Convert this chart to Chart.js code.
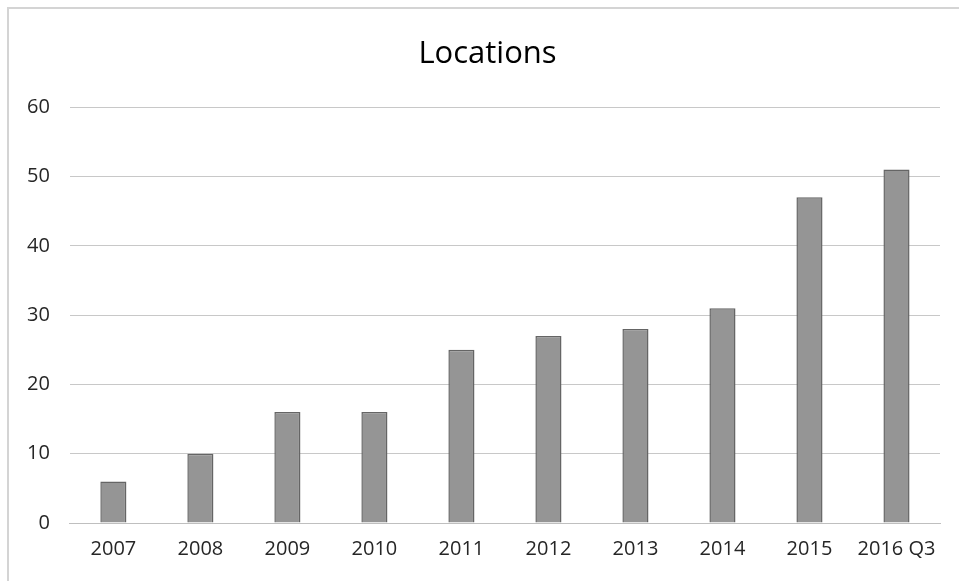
<!DOCTYPE html>
<html>
<head>
<meta charset="utf-8">
<script src="https://cdn.jsdelivr.net/npm/chart.js@4"></script>
<style>
  html, body { margin: 0; padding: 0; background: #fff; }
  #wrap { width: 959px; height: 581px; }
</style>
</head>
<body>
<div id="wrap"><canvas id="locations" width="959" height="581"></canvas></div>
<script>
// values
var years = ['2007', '2008', '2009', '2010', '2011', '2012', '2013', '2014', '2015', '2016 Q3'];
var locations = [6, 10, 16, 16, 25, 27, 28, 31, 47, 51];
var yTicks = [0, 10, 20, 30, 40, 50, 60];

// thin frame along the top and left edge, like the pasted chart
// and nudge the title box so it sits over the middle of the page
var framePlugin = {
  id: 'frame',
  afterLayout: function(chart) {
    var t = chart.titleBlock;
    if (t) {
      t.left += 14;
      t.right += 14;
    }
  },
  beforeDraw: function(chart) {
    var ctx = chart.ctx;
    ctx.save();
    ctx.strokeStyle = '#d4d4d4';
    ctx.lineWidth = 2;
    ctx.beginPath();
    ctx.moveTo(8, chart.height);
    ctx.lineTo(8, 8);
    ctx.lineTo(chart.width, 8);
    ctx.stroke();
    ctx.restore();
  }
};

Chart.defaults.font.family = "'Open Sans', 'Liberation Sans', sans-serif";
Chart.defaults.color = '#404040';

var chart = new Chart('locations', {
  type: 'bar',
  plugins: [framePlugin],
  data: {
    labels: years,
    datasets: [{
      label: 'Locations',
      data: locations,
      backgroundColor: '#959595',
      borderColor: '#656565',
      borderWidth: 1.5,
      barPercentage: 0.3,
      categoryPercentage: 1.0
    }]
  },
  options: {
    responsive: false,
    animation: false,
    layout: { padding: { left: 7, right: 19, top: 0, bottom: 14 } },
    plugins: {
      legend: { display: false },
      tooltip: { enabled: false },
      title: {
        display: true,
        text: 'Locations',
        color: '#000',
        font: { size: 31, weight: 'normal', lineHeight: 1.2 },
        padding: { top: 36, bottom: 34 }
      }
    },
    scales: {
      x: {
        grid: { display: false },
        border: { color: '#bfbfbf' },
        ticks: { color: '#262626', font: { size: 20 }, maxRotation: 0, padding: 6 }
      },
      y: {
        min: 0,
        max: 60,
        afterBuildTicks: function(axis) {
          axis.ticks = yTicks.map(function(v) { return { value: v }; });
        },
        grid: { color: '#c8c8c8', drawTicks: false },
        border: { display: false },
        ticks: { color: '#262626', font: { size: 20 }, padding: 20 }
      }
    }
  }
});
</script>
</body>
</html>
